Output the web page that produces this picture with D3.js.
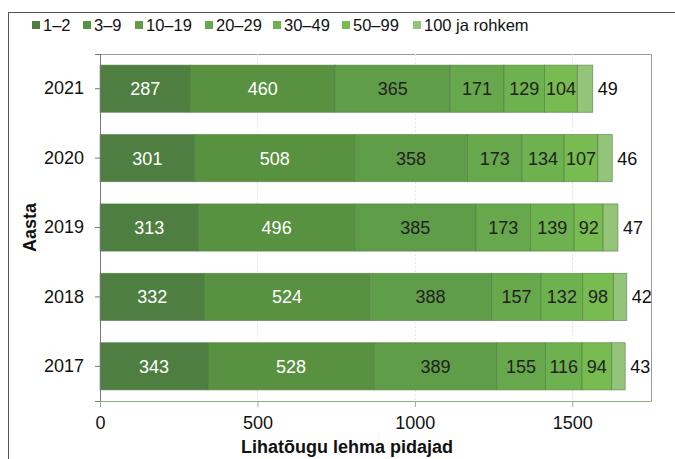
<!DOCTYPE html>
<html>
<head>
<meta charset="utf-8">
<script src="https://cdn.jsdelivr.net/npm/d3@7"></script>
<style>
  body { margin: 0; background: #fff; }
  text { font-family: "Liberation Sans", Arial, sans-serif; }
</style>
</head>
<body>
<svg id="chart" width="675" height="459"></svg>
<script>
// Holdings with beef-breed cows, by herd size group
const years = ["2021", "2020", "2019", "2018", "2017"];
const groups = ["1–2", "3–9", "10–19", "20–29", "30–49", "50–99", "100 ja rohkem"];
const v1_2    = [287, 301, 313, 332, 343];
const v3_9    = [460, 508, 496, 524, 528];
const v10_19  = [365, 358, 385, 388, 389];
const v20_29  = [171, 173, 173, 157, 155];
const v30_49  = [129, 134, 139, 132, 116];
const v50_99  = [104, 107, 92, 98, 94];
const v100    = [49, 46, 47, 42, 43];
const xTicks = [0, 500, 1000, 1500];
const colors = ["#4e7f41", "#58913f", "#5f9d48", "#67a84c", "#6eb14f", "#78bb50", "#93c47a"];
const labelColors = ["#fff", "#fff", "#222", "#222", "#222", "#222", "#222"];

const series = [v1_2, v3_9, v10_19, v20_29, v30_49, v50_99, v100];
const rows = years.map((y, i) => {
  const r = { year: y };
  groups.forEach((g, k) => { r[g] = series[k][i]; });
  return r;
});
const stacked = d3.stack().keys(groups)(rows);

const svg = d3.select("#chart");
const mLeft = 100, mRight = 651, mTop = 54, mBottom = 401;
const FONT = "'Liberation Sans', Arial, sans-serif";

const x = d3.scaleLinear().domain([0, 1750]).range([mLeft, mRight]);
const y = d3.scaleBand().domain(years).range([mTop, mBottom]).paddingInner(0.32).paddingOuter(0.16);

// outer frame
svg.append("rect").attr("x", 8.5).attr("y", 12.5).attr("width", 700).attr("height", 500)
  .attr("fill", "none").attr("stroke", "#555").attr("stroke-width", 1);

// plot frame (top & right)
svg.append("path")
  .attr("d", `M${mLeft},${mTop + 0.5}H${mRight + 0.5}V${mBottom}`)
  .attr("fill", "none").attr("stroke", "#9a9a9a").attr("stroke-width", 1);

// faint vertical grid
svg.append("g").selectAll("line").data(xTicks.slice(1)).join("line")
  .attr("x1", d => Math.round(x(d)) + 0.5).attr("x2", d => Math.round(x(d)) + 0.5)
  .attr("y1", mTop).attr("y2", mBottom)
  .attr("stroke", "#e6e6e6").attr("stroke-dasharray", "2,2");

// bars
const layer = svg.append("g").selectAll("g").data(stacked).join("g")
  .attr("fill", (d, i) => colors[i]);
layer.selectAll("rect").data(d => d).join("rect")
  .attr("x", d => x(d[0]))
  .attr("y", d => y(d.data.year))
  .attr("width", d => x(d[1]) - x(d[0]))
  .attr("height", y.bandwidth())
  .attr("stroke", "#4f7c43").attr("stroke-width", 0.8).attr("stroke-opacity", 0.7);

// value labels
stacked.forEach((s, i) => {
  const last = i === stacked.length - 1;
  svg.append("g").selectAll("text").data(s).join("text")
    .attr("x", d => last ? x(d[1]) + 5 : (x(d[0]) + x(d[1])) / 2)
    .attr("y", d => y(d.data.year) + y.bandwidth() / 2)
    .attr("dy", "0.36em")
    .attr("text-anchor", last ? "start" : "middle")
    .attr("font-size", 18)
    .attr("fill", last ? "#111" : labelColors[i])
    .text(d => d[1] - d[0]);
});

// y axis
const yAxis = svg.append("g").attr("transform", `translate(${mLeft},0)`)
  .call(d3.axisLeft(y).tickSize(5).tickPadding(11));
yAxis.select(".domain").attr("stroke", "#777");
yAxis.selectAll(".tick line").attr("stroke", "#777");
yAxis.selectAll("text").attr("font-size", 18).attr("fill", "#111").style("font-family", FONT);

// x axis
const xAxis = svg.append("g").attr("transform", `translate(0,${mBottom})`)
  .call(d3.axisBottom(x).tickValues(xTicks).tickFormat(d3.format("d"))
    .tickSize(6).tickPadding(9).tickSizeOuter(0));
xAxis.select(".domain").attr("stroke", "#8fae86");
xAxis.selectAll(".tick line").attr("stroke", "#8fae86");
xAxis.selectAll("text").attr("font-size", 18).attr("fill", "#111").style("font-family", FONT);

// axis titles
svg.append("text").attr("x", 347).attr("y", 453)
  .attr("text-anchor", "middle").attr("font-size", 18).attr("font-weight", "bold")
  .attr("fill", "#111").text("Lihatõugu lehma pidajad");
svg.append("text").attr("transform", `translate(36,${(mTop + mBottom) / 2}) rotate(-90)`)
  .attr("text-anchor", "middle").attr("font-size", 18).attr("font-weight", "bold")
  .attr("fill", "#111").text("Aasta");

// legend
const legendX = [32, 83, 135, 205, 273, 342, 413];
const lg = svg.append("g").selectAll("g").data(groups).join("g")
  .attr("transform", (d, i) => `translate(${legendX[i]},25)`);
lg.append("rect").attr("x", 0).attr("y", -4).attr("width", 8).attr("height", 8)
  .attr("fill", (d, i) => colors[i]);
lg.append("text").attr("x", 11).attr("y", 0).attr("dy", "0.36em")
  .attr("font-size", 16.5).attr("fill", "#111").text(d => d);
</script>
</body>
</html>
